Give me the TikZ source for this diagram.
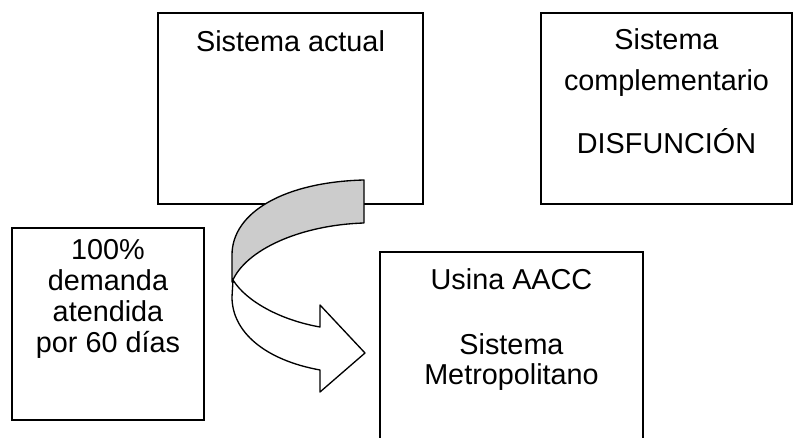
\documentclass[tikz,border=0pt]{standalone}
\usepackage{fontspec}
\setmainfont{Liberation Sans}
\begin{document}
\begin{tikzpicture}[x=0.75pt,y=-0.75pt,
  box/.style={draw=black,line width=1pt,fill=white,inner sep=0pt},
  txt/.style={anchor=base,inner sep=0pt,font=\fontsize{21.6}{24}\selectfont},
  ribbon/.style={draw=black,line width=1pt,line join=round}]
\useasboundingbox (0,0) rectangle (794,438);
% boxes
\draw[box] (158,13) rectangle (423,204);
\node[inner sep=0pt] (actual) at (290.5,108.5) {};
\draw[box] (541,13) rectangle (792,204);
\node[inner sep=0pt] (compl) at (666.5,108.5) {};
\draw[box] (12,228) rectangle (204,420);
\node[inner sep=0pt] (demanda) at (108,324) {};
\draw[box] (380,252) rectangle (643,448);
\node[inner sep=0pt] (usina) at (511.5,345) {};
% texts
\node[txt] (t1) at (290.5,52) {Sistema actual};
\node[txt] (t2) at (666.5,50) {Sistema};
\node[txt] (t3) at (666.5,91) {complementario};
\node[txt] (t4) at (666.5,154) {DISFUNCIÓN};
\node[txt] (t5) at (108,260) {100\%};
\node[txt] (t6) at (108,291) {demanda};
\node[txt] (t7) at (108,322) {atendida};
\node[txt] (t8) at (108,353) {por 60 días};
\node[txt] (t9) at (511.5,290) {Usina AACC};
\node[txt] (t10) at (511.5,355) {Sistema};
\node[txt] (t11) at (511.5,385) {Metropolitano};
% curved arrow: white front part
\draw[ribbon,fill=white] (233,280) .. controls (246,301) and (280,320) .. (320,327)
  -- (320,305) -- (365,353) -- (320,392) -- (320,370)
  .. controls (265,360) and (232,332) .. (232,297) -- cycle;
% gray back part
\draw[ribbon,fill=gray!40] (364,180) .. controls (285,182) and (232,212) .. (232,255)
  -- (232,282) .. controls (245,250) and (300,225) .. (364,223) -- cycle;
\end{tikzpicture}
\end{document}
